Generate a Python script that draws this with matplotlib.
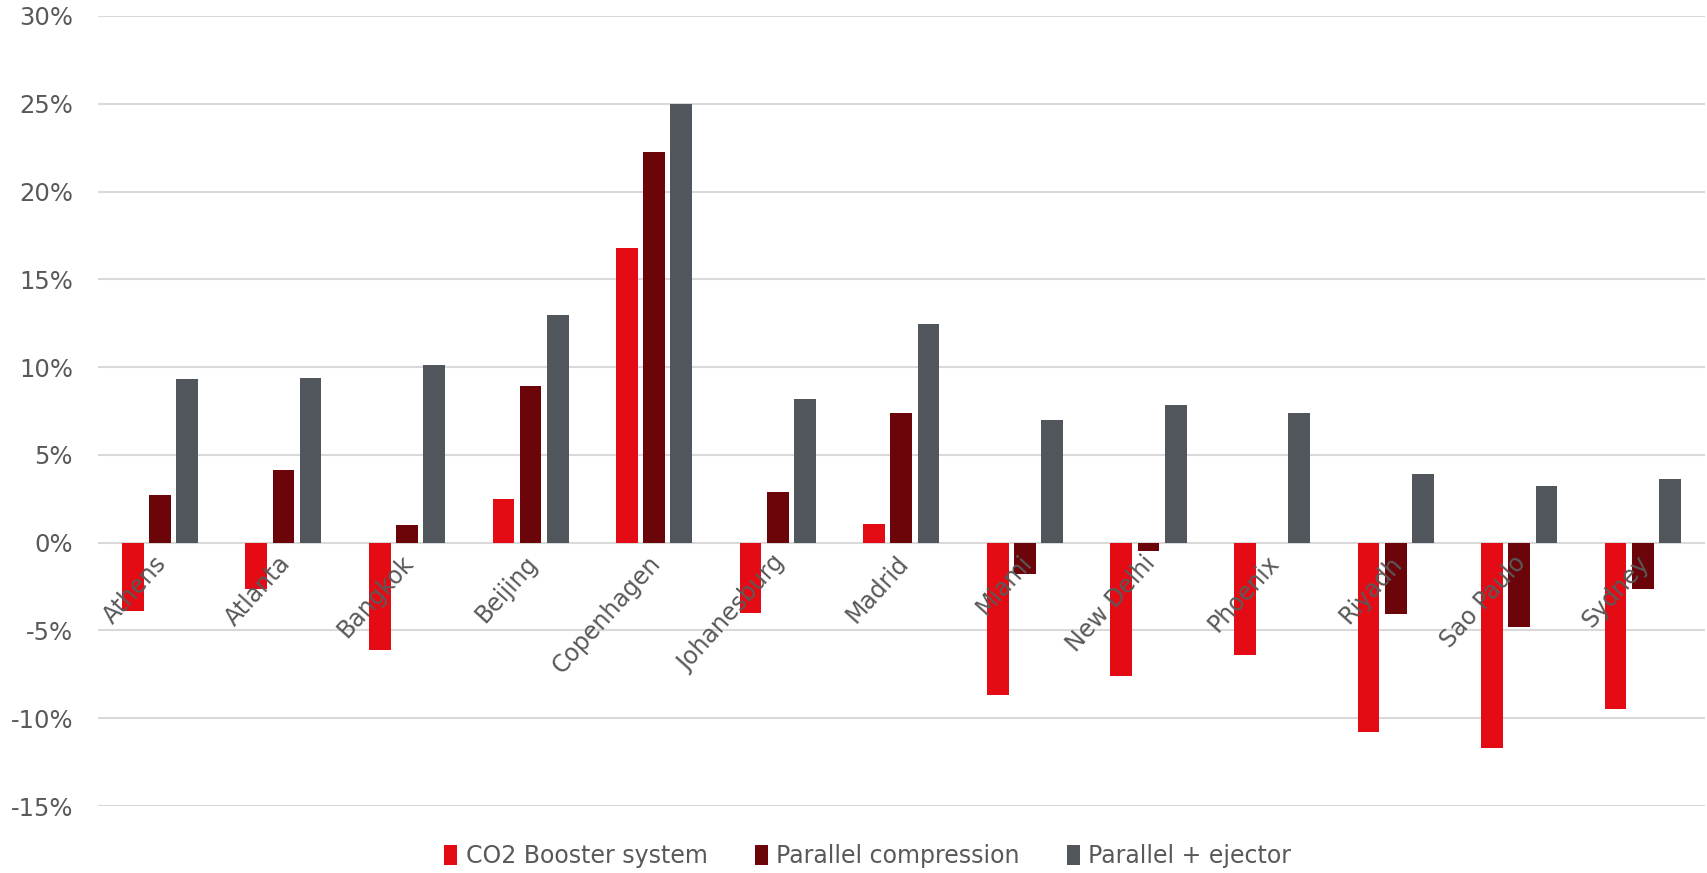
import matplotlib
matplotlib.use("Agg")
import matplotlib.pyplot as plt
from matplotlib.ticker import PercentFormatter
import numpy as np

# Perubahan konsumsi energi per kota untuk tiga konfigurasi sistem CO2
kota = ["Athens", "Atlanta", "Bangkok", "Beijing", "Copenhagen", "Johanesburg",
        "Madrid", "Miami", "New Delhi", "Phoenix", "Riyadh", "Sao Paulo", "Sydney"]

booster = [-3.87, -2.62, -6.11, 2.49, 16.77, -3.98, 1.04, -8.66, -7.57, -6.40, -10.76, -11.68, -9.49]
paralel = [2.70, 4.15, 1.02, 8.92, 22.28, 2.91, 7.40, -1.80, -0.46, 0.0, -4.08, -4.81, -2.64]
ejektor = [9.30, 9.37, 10.12, 12.99, 25.0, 8.20, 12.47, 7.01, 7.84, 7.39, 3.94, 3.22, 3.65]

nama_seri = ["CO2 Booster system", "Parallel compression", "Parallel + ejector"]
warna = ["#E50B14", "#6B050A", "#50565C"]

plt.rcParams["font.family"] = ["DejaVu Sans"]
plt.rcParams["axes.unicode_minus"] = False

fig = plt.figure(figsize=(17.08, 8.73), dpi=100)
ax = fig.add_axes([0.0574, 0.0767, 0.9406, 0.905])

x = np.arange(len(kota))
lebar = 0.176
jarak = 0.22

for i, (nilai, nama, w) in enumerate(zip([booster, paralel, ejektor], nama_seri, warna)):
    ax.bar(x + (i - 1) * jarak, nilai, width=lebar, color=w, label=nama, zorder=3)

ax.set_xlim(-0.5, len(kota) - 0.5)
ax.set_ylim(-15, 30)
ax.set_yticks(range(-15, 31, 5))
ax.yaxis.set_major_formatter(PercentFormatter(decimals=0))
ax.yaxis.grid(True, color="#D9D9D9", linewidth=1.5)
ax.set_axisbelow(True)

# label kota ditaruh di garis nol, miring, dan digambar di atas batang
ax.spines["bottom"].set_position(("data", 0))
for s in ["top", "right", "left", "bottom"]:
    ax.spines[s].set_visible(False)
ax.xaxis.set_zorder(4)
ax.set_xticks(x - 0.05)
ax.set_xticklabels(kota, rotation=48, ha="right", rotation_mode="anchor")
ax.tick_params(axis="both", length=0, colors="#595959")
ax.tick_params(axis="x", pad=6, labelsize=17)
ax.tick_params(axis="y", pad=18, labelsize=17.5)

fig.legend(loc="lower center", bbox_to_anchor=(0.508, -0.019), ncol=3, frameon=False,
           fontsize=17, handlelength=0.55, handleheight=0.9, handletextpad=0.35,
           columnspacing=2.0, labelcolor="#595959")

fig.savefig("out.png", dpi=100)
